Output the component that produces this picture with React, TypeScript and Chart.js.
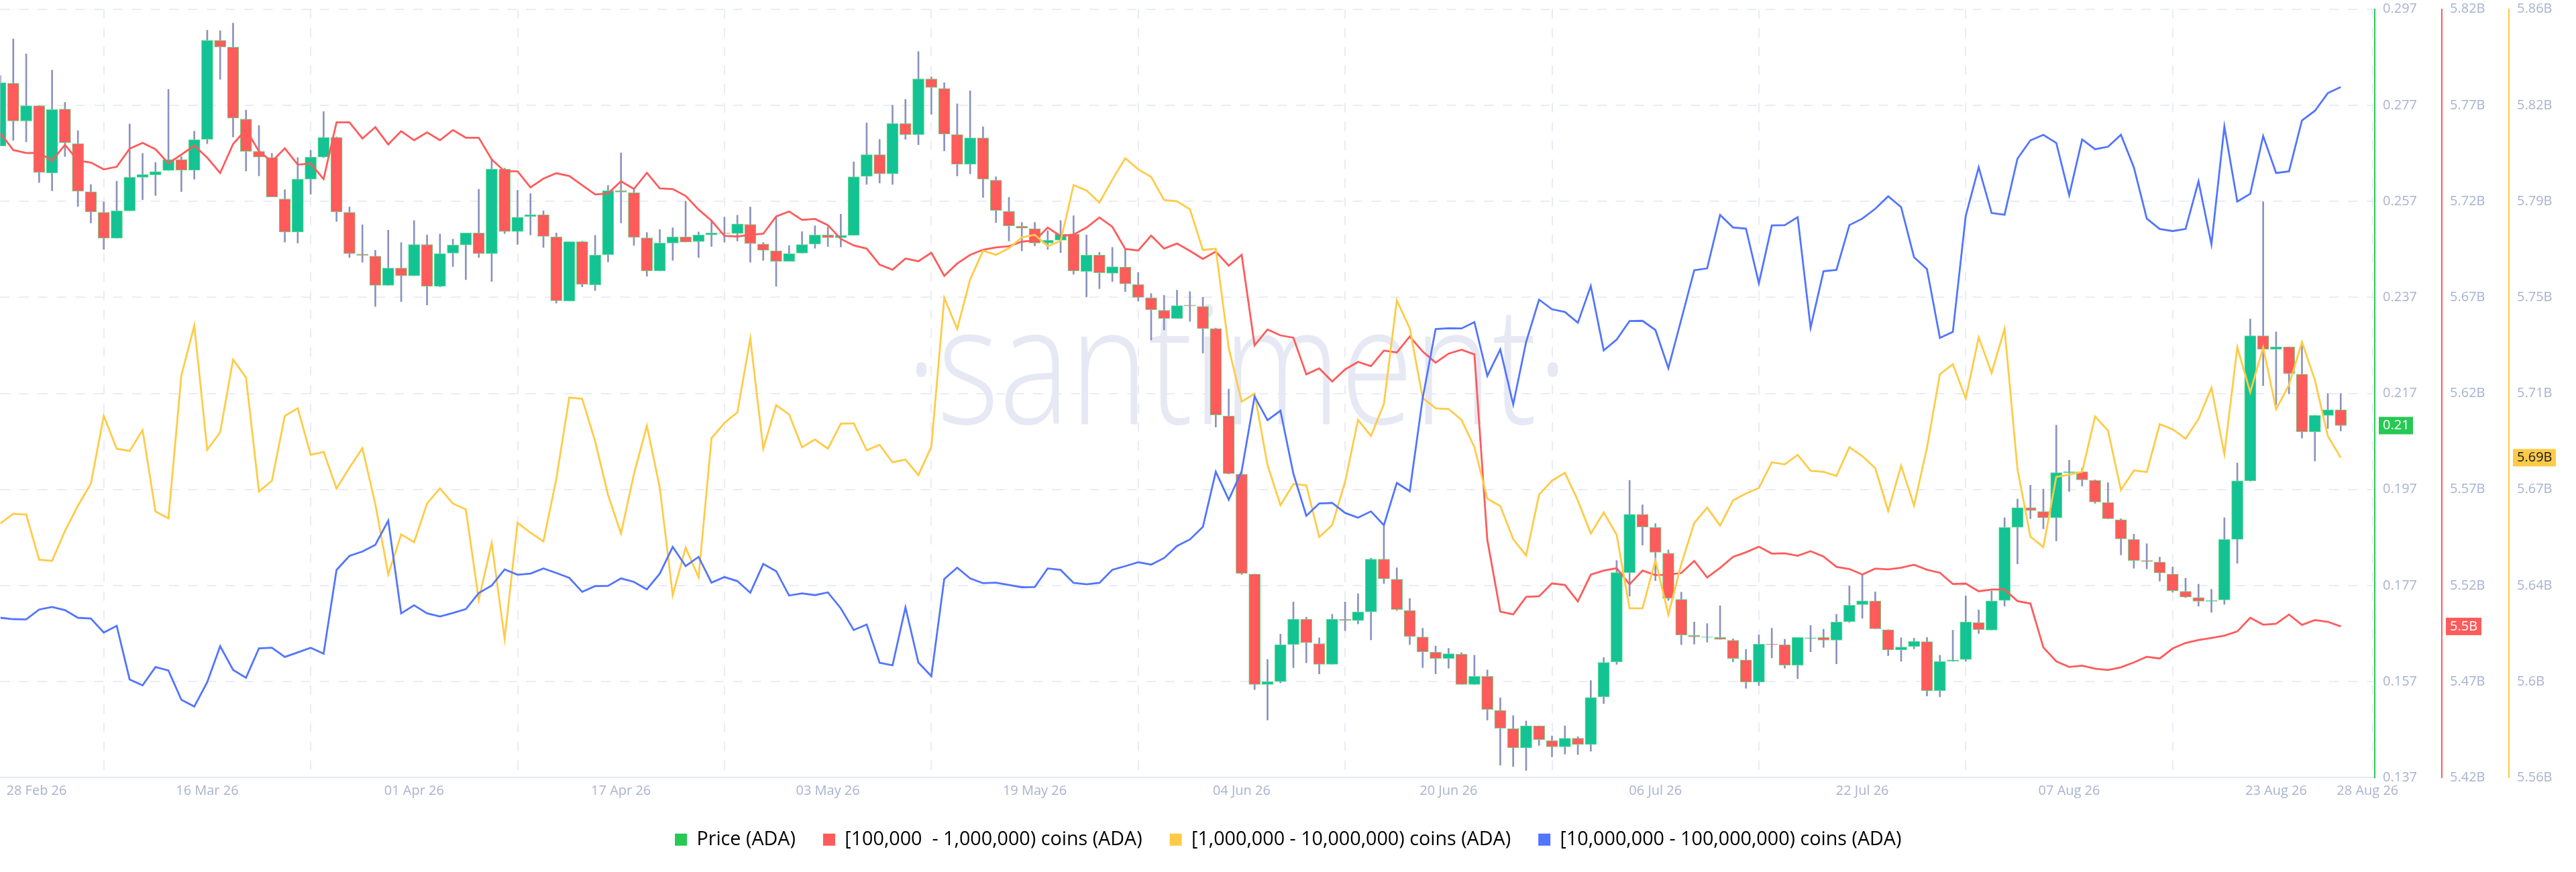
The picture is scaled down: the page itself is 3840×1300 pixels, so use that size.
import React, { useEffect, useRef } from "react";
import { Chart, registerables } from "chart.js";

Chart.register(...registerables);

const tickDays = [0, 16, 32, 48, 64, 80, 96, 112, 128, 144, 160, 176, 181];
const tickDates = ["28 Feb 26", "16 Mar 26", "01 Apr 26", "17 Apr 26", "03 May 26", "19 May 26", "04 Jun 26", "20 Jun 26", "06 Jul 26", "22 Jul 26", "07 Aug 26", "23 Aug 26", "28 Aug 26"];

const priceTicks = [0.137, 0.157, 0.177, 0.197, 0.217, 0.237, 0.257, 0.277, 0.297];
const priceTickLabels = ["0.137", "0.157", "0.177", "0.197", "0.217", "0.237", "0.257", "0.277", "0.297"];
const redTicks = [5.42, 5.47, 5.52, 5.57, 5.62, 5.67, 5.72, 5.77, 5.82];
const redTickLabels = ["5.42B", "5.47B", "5.52B", "5.57B", "5.62B", "5.67B", "5.72B", "5.77B", "5.82B"];
const yellowTicks = [5.56, 5.5975, 5.635, 5.6725, 5.71, 5.7475, 5.785, 5.8225, 5.86];
const yellowTickLabels = ["5.56B", "5.6B", "5.64B", "5.67B", "5.71B", "5.75B", "5.79B", "5.82B", "5.86B"];

const open = [.2685,.2816,.2737,.2769,.2629,.2762,.2690,.2590,.2547,.2493,.2550,.2620,.2625,.2634,.2657,.2635,.2699,.2905,.2891,.2741,.2674,.2661,.2575,.2506,.2616,.2662,.2703,.2547,.2460,.2456,.2395,.2431,.2415,.2480,.2393,.2462,.2479,.2504,.2461,.2637,.2507,.2538,.2542,.2496,.2362,.2486,.2396,.2459,.2592,.2588,.2494,.2425,.2483,.2496,.2486,.2500,.2504,.2503,.2522,.2481,.2467,.2445,.2462,.2481,.2500,.2494,.2499,.2622,.2667,.2627,.2732,.2709,.2825,.2805,.2709,.2647,.2702,.2614,.2549,.2518,.2513,.2483,.2489,.2502,.2424,.2458,.2420,.2433,.2397,.2369,.2343,.2326,.2354,.2351,.2305,.2123,.2002,.1794,.1564,.1570,.1647,.1700,.1649,.1606,.1700,.1697,.1715,.1825,.1783,.1718,.1663,.1631,.1618,.1627,.1564,.1581,.1510,.1472,.1432,.1478,.1447,.1434,.1452,.1439,.1538,.1611,.1797,.1918,.1891,.1837,.1741,.1666,.1662,.1662,.1656,.1615,.1569,.1648,.1647,.1604,.1660,.1662,.1656,.1695,.1730,.1738,.1678,.1636,.1643,.1653,.1551,.1612,.1616,.1693,.1677,.1739,.1891,.1932,.1924,.1911,.2005,.2007,.1989,.1943,.1907,.1866,.1822,.1819,.1794,.1758,.1745,.1737,.1740,.1866,.1988,.2290,.2262,.2267,.2210,.2090,.2124,.2136];
const close = [.2817,.2737,.2769,.2630,.2761,.2692,.2591,.2548,.2493,.2550,.2620,.2626,.2632,.2657,.2635,.2698,.2905,.2891,.2743,.2674,.2662,.2579,.2506,.2616,.2662,.2703,.2548,.2461,.2457,.2395,.2431,.2415,.2480,.2393,.2461,.2479,.2504,.2461,.2637,.2507,.2537,.2542,.2497,.2363,.2486,.2397,.2458,.2592,.2589,.2495,.2425,.2483,.2496,.2485,.2500,.2504,.2503,.2523,.2482,.2468,.2445,.2461,.2480,.2500,.2494,.2499,.2621,.2667,.2627,.2732,.2709,.2825,.2807,.2710,.2647,.2702,.2616,.2551,.2519,.2514,.2483,.2489,.2502,.2425,.2458,.2421,.2434,.2398,.2370,.2344,.2326,.2353,.2352,.2305,.2125,.2003,.1795,.1564,.1570,.1647,.1700,.1651,.1606,.1700,.1697,.1715,.1825,.1784,.1720,.1664,.1632,.1618,.1628,.1564,.1581,.1512,.1473,.1432,.1478,.1449,.1434,.1452,.1439,.1537,.1610,.1797,.1918,.1892,.1839,.1743,.1667,.1663,.1663,.1658,.1618,.1569,.1648,.1647,.1604,.1662,.1661,.1656,.1694,.1729,.1738,.1680,.1636,.1642,.1654,.1551,.1612,.1615,.1694,.1678,.1738,.1891,.1932,.1926,.1911,.2005,.2007,.1990,.1944,.1909,.1867,.1822,.1820,.1796,.1759,.1746,.1737,.1739,.1866,.1988,.2290,.2262,.2267,.2211,.2090,.2124,.2136,.2103];
const high = [.2832,.2908,.2877,.2769,.2843,.2776,.2717,.2605,.2569,.2612,.2731,.2670,.2651,.2803,.2663,.2716,.2926,.2925,.2941,.2760,.2728,.2670,.2594,.2661,.2676,.2757,.2704,.2558,.2521,.2468,.2510,.2484,.2530,.2500,.2502,.2491,.2504,.2595,.2658,.2639,.2593,.2586,.2550,.2504,.2486,.2487,.2499,.2603,.2671,.2597,.2505,.2511,.2515,.2570,.2506,.2530,.2537,.2541,.2558,.2484,.2538,.2478,.2507,.2519,.2517,.2543,.2652,.2733,.2699,.2770,.2782,.2882,.2829,.2817,.2773,.2800,.2725,.2621,.2578,.2526,.2526,.2509,.2530,.2540,.2500,.2464,.2474,.2469,.2422,.2378,.2374,.2385,.2382,.2370,.2306,.2179,.2008,.1794,.1616,.1669,.1736,.1704,.1661,.1710,.1736,.1753,.1827,.1893,.1807,.1743,.1681,.1644,.1639,.1630,.1625,.1594,.1536,.1499,.1488,.1478,.1457,.1478,.1455,.1572,.1620,.1822,.1989,.1938,.1899,.1844,.1756,.1694,.1691,.1728,.1659,.1637,.1667,.1681,.1658,.1662,.1687,.1679,.1710,.1769,.1793,.1757,.1678,.1661,.1660,.1662,.1625,.1677,.1748,.1719,.1759,.1911,.1950,.1979,.1971,.2104,.2031,.2015,.1990,.1984,.1909,.1877,.1857,.1829,.1809,.1785,.1773,.1762,.1911,.2025,.2325,.2569,.2298,.2267,.2277,.2125,.2170,.2170];
const low = [.2685,.2697,.2694,.2609,.2592,.2663,.2559,.2525,.2470,.2493,.2550,.2573,.2582,.2634,.2590,.2616,.2690,.2824,.2704,.2633,.2623,.2579,.2485,.2483,.2585,.2661,.2528,.2453,.2443,.2351,.2395,.2361,.2415,.2354,.2392,.2434,.2407,.2453,.2403,.2503,.2480,.2500,.2474,.2358,.2362,.2392,.2384,.2444,.2525,.2478,.2414,.2425,.2447,.2485,.2453,.2476,.2485,.2487,.2443,.2447,.2393,.2445,.2462,.2472,.2476,.2475,.2499,.2605,.2608,.2605,.2699,.2688,.2751,.2675,.2623,.2627,.2578,.2526,.2487,.2467,.2477,.2470,.2463,.2418,.2371,.2388,.2403,.2382,.2362,.2281,.2302,.2326,.2320,.2254,.2100,.2002,.1793,.1553,.1490,.1567,.1599,.1609,.1586,.1606,.1676,.1690,.1657,.1774,.1718,.1647,.1599,.1586,.1598,.1564,.1564,.1490,.1396,.1393,.1385,.1437,.1413,.1419,.1418,.1425,.1524,.1606,.1748,.1854,.1780,.1739,.1647,.1648,.1652,.1658,.1611,.1556,.1562,.1619,.1598,.1576,.1632,.1641,.1607,.1693,.1702,.1680,.1624,.1612,.1638,.1540,.1538,.1612,.1612,.1670,.1677,.1727,.1815,.1909,.1888,.1863,.1966,.1977,.1941,.1909,.1834,.1806,.1805,.1779,.1756,.1745,.1727,.1714,.1731,.1816,.1987,.2186,.2146,.2169,.2077,.2029,.2097,.2092];

const redCohort = [5.7554,5.7467,5.7451,5.7452,5.7411,5.7494,5.7412,5.7402,5.7366,5.7380,5.7474,5.7504,5.7471,5.7398,5.7443,5.7490,5.7427,5.7347,5.7498,5.7574,5.7460,5.7407,5.7476,5.7391,5.7396,5.7316,5.7611,5.7611,5.7527,5.7586,5.7496,5.7565,5.7518,5.7559,5.7518,5.7571,5.7531,5.7531,5.7418,5.7356,5.7356,5.7272,5.7318,5.7346,5.7332,5.7284,5.7236,5.7241,5.7304,5.7264,5.7348,5.7267,5.7264,5.7228,5.7157,5.7099,5.7020,5.7017,5.7025,5.7031,5.7121,5.7147,5.7103,5.7108,5.7076,5.7004,5.6970,5.6954,5.6870,5.6844,5.6902,5.6888,5.6932,5.6812,5.6876,5.6921,5.6948,5.6960,5.6966,5.6990,5.6996,5.7063,5.7019,5.7027,5.7063,5.7116,5.7067,5.6952,5.6944,5.7021,5.6954,5.6980,5.6942,5.6900,5.6938,5.6865,5.6921,5.6450,5.6533,5.6502,5.6490,5.6299,5.6330,5.6262,5.6325,5.6364,5.6342,5.6423,5.6413,5.6496,5.6418,5.6360,5.6407,5.6427,5.6403,5.5437,5.5064,5.5050,5.5141,5.5144,5.5211,5.5203,5.5117,5.5257,5.5278,5.5290,5.5206,5.5278,5.5254,5.5257,5.5265,5.5328,5.5242,5.5292,5.5349,5.5373,5.5402,5.5366,5.5368,5.5355,5.5379,5.5351,5.5297,5.5286,5.5257,5.5288,5.5284,5.5293,5.5308,5.5282,5.5266,5.5208,5.5210,5.5170,5.5179,5.5179,5.5119,5.5106,5.4878,5.4805,5.4776,5.4783,5.4767,5.4760,5.4774,5.4800,5.4829,5.4820,5.4872,5.4901,5.4916,5.4927,5.4939,5.4961,5.5032,5.4996,5.5001,5.5049,5.4995,5.5020,5.5011,5.4987];
const yellowCohort = [5.6592,5.6630,5.6627,5.6451,5.6446,5.6563,5.6662,5.6747,5.7012,5.6884,5.6875,5.6957,5.6639,5.6612,5.7170,5.7365,5.6880,5.6948,5.7232,5.7162,5.6717,5.6759,5.7012,5.7042,5.6860,5.6872,5.6729,5.6810,5.6886,5.6668,5.6393,5.6550,5.6519,5.6670,5.6729,5.6670,5.6647,5.6294,5.6516,5.6142,5.6595,5.6556,5.6522,5.6767,5.7084,5.7079,5.6913,5.6703,5.6553,5.6785,5.6974,5.6732,5.6312,5.6498,5.6382,5.6925,5.6985,5.7026,5.7315,5.6884,5.7054,5.7018,5.6890,5.6920,5.6884,5.6982,5.6983,5.6878,5.6899,5.6831,5.6842,5.6781,5.6892,5.7473,5.7352,5.7545,5.7657,5.7641,5.7667,5.7709,5.7719,5.7675,5.7695,5.7913,5.7892,5.7845,5.7935,5.8018,5.7975,5.7945,5.7855,5.7850,5.7819,5.7660,5.7665,5.7277,5.7068,5.7099,5.6820,5.6664,5.6746,5.6741,5.6539,5.6586,5.6755,5.6997,5.6934,5.7059,5.7463,5.7354,5.7082,5.7042,5.7039,5.6997,5.6890,5.6689,5.6660,5.6531,5.6467,5.6705,5.6759,5.6790,5.6682,5.6553,5.6635,5.6548,5.6261,5.6261,5.6448,5.6236,5.6434,5.6594,5.6654,5.6584,5.6682,5.6709,5.6731,5.6831,5.6823,5.6860,5.6798,5.6794,5.6778,5.6890,5.6855,5.6808,5.6641,5.6818,5.6662,5.6888,5.7175,5.7214,5.7080,5.7319,5.7180,5.7352,5.6804,5.6541,5.6500,5.6774,5.6783,5.6794,5.7010,5.6955,5.6723,5.6799,5.6793,5.6980,5.6960,5.6923,5.7000,5.7122,5.6863,5.7280,5.7105,5.7280,5.7038,5.7133,5.7301,5.7152,5.6934,5.6849];
const blueCohort = [11.0832,11.0825,11.0824,11.0875,11.0888,11.0872,11.0832,11.0828,11.0755,11.0790,11.0511,11.0480,11.0576,11.0557,11.0405,11.0370,11.0497,11.0684,11.0561,11.0520,11.0673,11.0676,11.0628,11.0652,11.0676,11.0645,11.1081,11.1154,11.1177,11.1212,11.1338,11.0855,11.0897,11.0855,11.0839,11.0857,11.0877,11.0961,11.1000,11.1084,11.1056,11.1062,11.1089,11.1065,11.1040,11.0967,11.0997,11.0998,11.1037,11.1019,11.0980,11.1062,11.1201,11.1101,11.1149,11.1015,11.1044,11.1023,11.0962,11.1112,11.1075,11.0948,11.0959,11.0950,11.0964,11.0881,11.0768,11.0797,11.0598,11.0585,11.0886,11.0599,11.0528,11.1034,11.1093,11.1037,11.1012,11.1015,11.1003,11.0991,11.0992,11.1089,11.1081,11.1014,11.1006,11.1014,11.1082,11.1101,11.1121,11.1109,11.1143,11.1206,11.1240,11.1305,11.1592,11.1447,11.1595,11.1984,11.1861,11.1910,11.1582,11.1363,11.1427,11.1430,11.1378,11.1353,11.1386,11.1314,11.1534,11.1491,11.1975,11.2335,11.2339,11.2338,11.2371,11.2091,11.2229,11.1942,11.2268,11.2488,11.2438,11.2424,11.2368,11.2559,11.2224,11.2280,11.2377,11.2378,11.2330,11.2131,11.2385,11.2641,11.2651,11.2929,11.2864,11.2858,11.2573,11.2874,11.2876,11.2917,11.2342,11.2636,11.2643,11.2876,11.2910,11.2961,11.3026,11.2970,11.2709,11.2647,11.2289,11.2320,11.2925,11.3177,11.2939,11.2930,11.3222,11.3317,11.3346,11.3304,11.3032,11.3322,11.3271,11.3284,11.3346,11.3177,11.2910,11.2856,11.2845,11.2856,11.3104,11.2776,11.3389,11.2999,11.3039,11.3340,11.3147,11.3156,11.3421,11.3471,11.3563,11.3595];

const GREEN = "#26C953";
const RED = "#FF5B5B";
const YELLOW = "#FFCB47";
const BLUE = "#5275FF";
const UP = "#14C393";
const TICK_COLOR = "#A9B2CE";
const GRID = "#E9ECF6";
const FONT = '"Open Sans", sans-serif';

const legendEntries = [
  { text: "Price (ADA)", color: GREEN },
  { text: "[100,000  - 1,000,000) coins (ADA)", color: RED },
  { text: "[1,000,000 - 10,000,000) coins (ADA)", color: YELLOW },
  { text: "[10,000,000 - 100,000,000) coins (ADA)", color: BLUE },
];

const xy = (arr: number[]) => arr.map((y, x) => ({ x, y }));

const pinTicks = (values: number[]) => (scale: any) => {
  scale.ticks = values.map((value) => ({ value }));
};

const overlay = {
  id: "overlay",
  beforeDatasetsDraw(chart: any) {
    const { ctx } = chart;
    ctx.save();
    ctx.fillStyle = "#E6E9F4";
    ctx.font = '300 245px "Open Sans", sans-serif';
    ctx.textAlign = "center";
    ctx.textBaseline = "alphabetic";
    ctx.translate(1844, 632);
    ctx.scale(0.81, 1);
    ctx.fillText("·santiment·", 0, 0);
    ctx.restore();
  },
  afterDraw(chart: any) {
    const { ctx, scales } = chart;
    ctx.save();
    ctx.font = `20px ${FONT}`;
    ctx.textBaseline = "middle";
    ctx.fillStyle = TICK_COLOR;
    ctx.textAlign = "center";
    tickDays.forEach((d, i) => {
      let x = scales.x.getPixelForValue(d);
      if (i === 0) x += 54;
      if (i === tickDays.length - 1) x += 40;
      ctx.fillText(tickDates[i], x, 1179);
    });
    ctx.textAlign = "left";
    const tag = (scale: any, value: number, text: string, bg: string, fg: string, w: number) => {
      const y = scale.getPixelForValue(value);
      ctx.fillStyle = bg;
      ctx.fillRect(scale.left + 6, y - 13, w, 26);
      ctx.fillStyle = fg;
      ctx.fillText(text, scale.left + 12, y);
    };
    tag(scales.yPrice, close[close.length - 1], "0.21", GREEN, "#FFFFFF", 51);
    tag(scales.yRed, redCohort[redCohort.length - 1], "5.5B", RED, "#FFFFFF", 53);
    tag(scales.yYellow, yellowCohort[yellowCohort.length - 1], "5.69B", YELLOW, "#14192B", 64);
    ctx.restore();
  },
};

export default function App() {
  const ref = useRef<HTMLCanvasElement>(null);
  useEffect(() => {
    document.body.style.margin = "0";
    const rightAxis = (ticksList: number[], labels: string[], color: string, weight: number, min: number, max: number, grid: boolean) => ({
      type: "linear" as const,
      position: "right" as const,
      weight,
      min,
      max,
      afterFit: (s: any) => { s.width = 100; s.paddingTop = 0; s.paddingBottom = 0; },
      afterBuildTicks: pinTicks(ticksList),
      border: { display: true, color, width: 2, dash: [14, 14] },
      grid: grid
        ? { display: true, color: GRID, lineWidth: 2, drawTicks: false, tickLength: 0 }
        : { display: false, drawTicks: false },
      ticks: {
        autoSkip: false,
        padding: 12,
        color: TICK_COLOR,
        font: { size: 20, family: FONT },
        callback: (_v: any, i: number) => labels[i],
      },
    });
    const candleColors = close.map((c, i) => (c >= open[i] ? UP : RED));
    const chart = new Chart(ref.current as HTMLCanvasElement, {
      type: "bar",
      data: {
        datasets: [
          { type: "line", label: legendEntries[1].text, data: xy(redCohort), yAxisID: "yRed", borderColor: RED, borderWidth: 2.8, pointRadius: 0, tension: 0, order: 3 },
          { type: "line", label: legendEntries[2].text, data: xy(yellowCohort), yAxisID: "yYellow", borderColor: YELLOW, borderWidth: 2.8, pointRadius: 0, tension: 0, order: 2 },
          { type: "line", label: legendEntries[3].text, data: xy(blueCohort), yAxisID: "yBlue", borderColor: BLUE, borderWidth: 2.8, pointRadius: 0, tension: 0, order: 1 },
          { type: "bar", label: legendEntries[0].text, data: open.map((o, x) => ({ x, y: [o, close[x]] })), yAxisID: "yPrice", backgroundColor: candleColors, borderColor: "#62DC8C", borderWidth: 1, borderSkipped: false, barThickness: 17, grouped: false, order: 5 },
          { type: "bar", label: "wick", data: low.map((l, x) => ({ x, y: [l, high[x]] })), yAxisID: "yPrice", backgroundColor: "#8A93BC", borderWidth: 0, barThickness: 2, grouped: false, order: 6 },
        ],
      } as any,
      options: {
        animation: false,
        responsive: false,
        maintainAspectRatio: false,
        layout: { padding: { left: 0.5, top: 13.7, right: 0, bottom: 24 } },
        plugins: {
          tooltip: { enabled: false },
          legend: {
            display: true,
            position: "bottom",
            onClick: () => {},
            labels: {
              boxWidth: 18,
              boxHeight: 18,
              padding: 41,
              color: "#1C2230",
              font: { size: 28.7, family: FONT },
              generateLabels: () => legendEntries.map((e) => ({ text: e.text, fillStyle: e.color, strokeStyle: e.color, lineWidth: 0, hidden: false })),
            },
          },
        },
        scales: {
          x: {
            type: "linear",
            offset: false,
            min: 0,
            max: 183.63,
            afterFit: (s: any) => { s.height = 37; s.paddingLeft = 0; s.paddingRight = 0; },
            afterBuildTicks: pinTicks(tickDays),
            border: { display: true, color: "#E6E9F4", width: 2, dash: [14, 14] },
            grid: {
              display: true,
              color: (c: any) => (c.index === tickDays.length - 1 ? "rgba(0,0,0,0)" : GRID),
              lineWidth: 2,
              drawTicks: false,
            },
            ticks: { display: false, autoSkip: false },
          },
          yPrice: { ...rightAxis(priceTicks, priceTickLabels, GREEN, 1, 0.137, 0.297, true) },
          yRed: { ...rightAxis(redTicks, redTickLabels, RED, 2, 5.42, 5.82, false) },
          yYellow: { ...rightAxis(yellowTicks, yellowTickLabels, YELLOW, 3, 5.56, 5.86, false) },
          yBlue: { type: "linear", display: false, min: 11.0, max: 11.4 },
        },
        elements: { line: { borderJoinStyle: "miter" } },
      } as any,
      plugins: [overlay],
    });
    return () => chart.destroy();
  }, []);
  return (
    <div style={{ position: "absolute", left: 0, top: 0, width: 3840, height: 1300, background: "#fff" }}>
      <canvas ref={ref} width={3840} height={1300} style={{ display: "block", width: 3840, height: 1300 }} />
    </div>
  );
}
